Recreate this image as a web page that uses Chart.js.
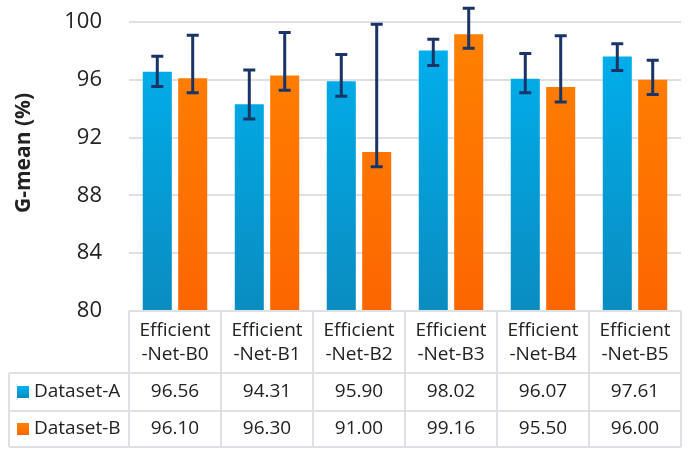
<!DOCTYPE html>
<html>
<head>
<meta charset="utf-8">
<script src="https://cdn.jsdelivr.net/npm/chart.js@4.4.1/dist/chart.umd.min.js"></script>
<style>
  html, body { margin: 0; padding: 0; background: #fff; }
  #wrap { width: 688px; height: 455px; }
</style>
</head>
<body>
<div id="wrap"><canvas id="chart" width="688" height="455"></canvas></div>
<script>
// data
var categories = [['Efficient', '-Net-B0'], ['Efficient', '-Net-B1'], ['Efficient', '-Net-B2'],
                  ['Efficient', '-Net-B3'], ['Efficient', '-Net-B4'], ['Efficient', '-Net-B5']];
var seriesNames = ['Dataset-A', 'Dataset-B'];
var datasetA = [96.56, 94.31, 95.90, 98.02, 96.07, 97.61];
var datasetB = [96.10, 96.30, 91.00, 99.16, 95.50, 96.00];
var errAPlus = [1.07, 2.37, 1.85, 0.78, 1.75, 0.89];
var errAMinus = [1.03, 1.03, 1.03, 1.03, 0.97, 0.97];
var errBPlus = [2.98, 2.97, 8.84, 1.79, 3.54, 1.35];
var errBMinus = [1.00, 1.02, 1.02, 0.98, 1.03, 1.02];
var yTicks = [80, 84, 88, 92, 96, 100];
var yTitle = 'G-mean (%)';

var FONT = "'Open Sans', 'Noto Sans', sans-serif";
var TEXT = '#222222';
var LINE = '#dde1e6';

function grad(ctx, area, top, bottom) {
    var g = ctx.createLinearGradient(0, area.top, 0, area.bottom);
    g.addColorStop(0, top);
    g.addColorStop(1, bottom);
    return g;
}
var blueFill = function (c) {
    var a = c.chart.chartArea;
    if (!a) return '#00a4e0';
    return grad(c.chart.ctx, a, '#00b2f0', '#0a8cc0');
};
var orangeFill = function (c) {
    var a = c.chart.chartArea;
    if (!a) return '#ff7800';
    return grad(c.chart.ctx, a, '#ff8200', '#fc6600');
};

// error bars drawn on top of the bars
var errorBars = {
    id: 'errorBars',
    afterDatasetsDraw: function (chart) {
        var ctx = chart.ctx;
        var y = chart.scales.y;
        var errs = [[errAPlus, errAMinus], [errBPlus, errBMinus]];
        ctx.save();
        ctx.strokeStyle = '#1b3468';
        ctx.lineWidth = 3;
        chart.data.datasets.forEach(function (ds, di) {
            var meta = chart.getDatasetMeta(di);
            meta.data.forEach(function (bar, i) {
                var v = ds.data[i];
                var yt = y.getPixelForValue(v + errs[di][0][i]);
                var yb = y.getPixelForValue(v - errs[di][1][i]);
                var x = bar.x;
                ctx.beginPath();
                ctx.moveTo(x, yt); ctx.lineTo(x, yb);
                ctx.moveTo(x - 6, yt); ctx.lineTo(x + 6, yt);
                ctx.moveTo(x - 6, yb); ctx.lineTo(x + 6, yb);
                ctx.stroke();
            });
        });
        ctx.restore();
    }
};

// data table under the plot, excel style, plus the y title
var dataTable = {
    id: 'dataTable',
    afterDraw: function (chart) {
        var ctx = chart.ctx;
        var area = chart.chartArea;
        var xs = chart.scales.x;
        var colW = (area.right - area.left) / categories.length;
        var rowTop = area.bottom;
        var headBottom = 373, rowA = 411, rowB = 447, tableLeft = 9;
        ctx.save();
        ctx.strokeStyle = LINE;
        ctx.lineWidth = 2;
        ctx.beginPath();
        ctx.moveTo(area.left, rowTop); ctx.lineTo(area.right, rowTop);
        [headBottom, rowA, rowB].forEach(function (yy) {
            ctx.moveTo(tableLeft, yy); ctx.lineTo(area.right, yy);
        });
        ctx.moveTo(tableLeft, headBottom); ctx.lineTo(tableLeft, rowB);
        for (var i = 0; i <= categories.length; i++) {
            var xx = area.left + i * colW;
            ctx.moveTo(xx, rowTop); ctx.lineTo(xx, rowB);
        }
        ctx.stroke();

        ctx.fillStyle = TEXT;
        ctx.font = '19px ' + FONT;
        ctx.textAlign = 'center';
        ctx.textBaseline = 'middle';
        categories.forEach(function (lab, i) {
            var cx = xs.getPixelForValue(i);
            ctx.fillText(lab[0], cx, 331);
            ctx.fillText(lab[1], cx, 355);
            ctx.fillText(datasetA[i].toFixed(2), cx, 392);
            ctx.fillText(datasetB[i].toFixed(2), cx, 429);
        });

        ctx.textAlign = 'left';
        ctx.fillText(seriesNames[0], 34, 392);
        ctx.fillText(seriesNames[1], 34, 429);
        ctx.fillStyle = grad(ctx, {top: 386, bottom: 398}, '#00b2f0', '#0a8cc0');
        ctx.fillRect(17, 386, 12, 12);
        ctx.fillStyle = grad(ctx, {top: 423, bottom: 435}, '#ff8200', '#fc6600');
        ctx.fillRect(17, 423, 12, 12);

        // rotated axis title
        ctx.translate(24, 153);
        ctx.rotate(-Math.PI / 2);
        ctx.fillStyle = TEXT;
        ctx.textAlign = 'center';
        ctx.font = 'bold 21px ' + FONT;
        ctx.fillText(yTitle, 0, 0);
        ctx.restore();
    }
};

new Chart(document.getElementById('chart').getContext('2d'), {
    type: 'bar',
    data: {
        labels: categories,
        datasets: [
            { label: seriesNames[0], data: datasetA, backgroundColor: blueFill, borderWidth: 0 },
            { label: seriesNames[1], data: datasetB, backgroundColor: orangeFill, borderWidth: 0 }
        ]
    },
    options: {
        responsive: false,
        animation: false,
        categoryPercentage: 0.77,
        barPercentage: 0.82,
        layout: { padding: { top: 22, right: 7, bottom: 144, left: 0 } },
        plugins: {
            legend: { display: false },
            tooltip: { enabled: false }
        },
        scales: {
            x: {
                display: false
            },
            y: {
                min: 80,
                max: 100,
                afterBuildTicks: function (s) {
                    s.ticks = yTicks.map(function (v) { return { value: v }; });
                },
                afterFit: function (s) { s.width = 129; },
                border: { display: false },
                grid: { color: LINE, lineWidth: 2, drawTicks: true, tickLength: 27, tickColor: 'rgba(0,0,0,0)' },
                ticks: {
                    padding: 0,
                    color: TEXT,
                    font: { family: FONT, size: 22 }
                }
            }
        }
    },
    plugins: [errorBars, dataTable]
});
</script>
</body>
</html>
